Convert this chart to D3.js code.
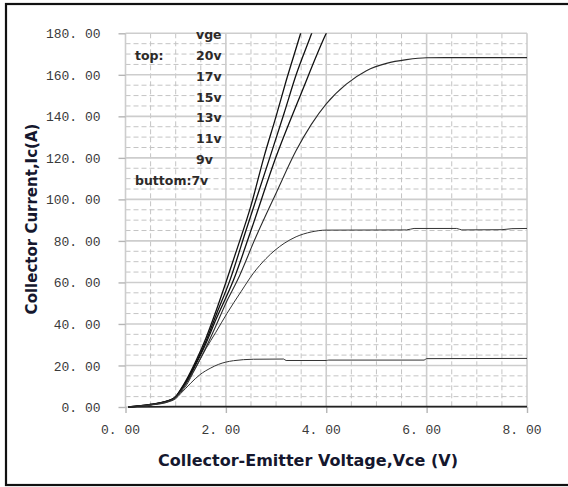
<!DOCTYPE html>
<html><head><meta charset="utf-8">
<script src="https://cdn.jsdelivr.net/npm/d3@7"></script>
<style>
html,body{margin:0;padding:0;background:#fff;}
svg{display:block;}
</style></head>
<body>
<svg id="chart" width="568" height="487"></svg>
<script>
// ---- data (Vce [V], Ic [A]) ----
const xTicks = [0, 2, 4, 6, 8];
const yTicks = [0, 20, 40, 60, 80, 100, 120, 140, 160, 180];
const legendLabels = ["vge", "20v", "17v", "15v", "13v", "11v", "9v"];
const vge20 = [[0.05,0],[0.5,1.3],[0.9,3.5],[1.0,5],[1.1,8.5],[1.2,12.5],[1.4,22],[1.6,33],[1.8,46],[2.0,60],[2.2,74.5],[2.5,97],[2.76,120.5],[3.0,140],[3.2,157],[3.49,180],[3.6,189]];
const vge17 = [[0.05,0],[0.5,1.2],[0.9,3.4],[1.0,4.9],[1.1,8.2],[1.2,12],[1.4,21],[1.6,31.5],[1.8,44],[2.08,61],[2.4,85],[2.88,120.5],[3.16,141.5],[3.4,160],[3.71,180],[3.8,186]];
const vge15 = [[0.05,0],[0.5,1.2],[0.9,3.3],[1.0,4.8],[1.1,8],[1.2,11.5],[1.4,20.5],[1.6,30.5],[1.8,42],[2.15,61],[2.5,85],[3.0,120.5],[3.5,151],[4.0,180],[4.1,185]];
const vge13 = [[0.05,0],[0.5,1.1],[0.9,3.2],[1.0,4.7],[1.1,7.5],[1.2,11],[1.4,19],[1.6,28.5],[1.8,39],[2.0,50],[2.23,61],[2.6,82],[3.0,103],[3.4,123.5],[3.7,136],[4.0,146],[4.4,155.5],[4.8,162],[5.2,165.5],[5.6,167.3],[6.0,168.2],[7.0,168.3],[8.0,168.3]];
const vge11 = [[0.05,0],[0.5,1.0],[0.9,3.0],[1.0,4.5],[1.1,7],[1.2,10],[1.4,19],[1.6,28],[1.8,36],[2.02,45],[2.3,55.5],[2.55,64.5],[2.8,71.5],[3.16,78.8],[3.4,82],[3.7,84.3],[4.0,85.2],[5.6,85.3],[5.75,86],[6.6,86],[6.7,85.3],[7.5,85.4],[7.7,85.9],[8.0,86]];
const vge9 = [[0.05,0],[0.5,0.9],[0.9,2.8],[1.0,4],[1.1,6.5],[1.2,9],[1.3,11.5],[1.48,15.5],[1.7,18.8],[1.85,20.5],[2.15,22.3],[2.55,23],[3.15,23.1],[3.2,22.4],[4.0,22.4],[4.05,22.6],[5.95,22.6],[6.0,23.3],[8.0,23.4]];
const vge7 = [[0.05,0],[1.0,0.2],[8.0,0.2]];

const series = [vge20, vge17, vge15, vge13, vge11, vge9, vge7];

// ---- layout ----
const svg = d3.select("#chart");
const x = d3.scaleLinear().domain([0, 8]).range([125.5, 527]);
const y = d3.scaleLinear().domain([0, 180]).range([407, 33.3]);

// outer frame (right edge falls outside the picture)
svg.append("rect").attr("x", 6).attr("y", 4).attr("width", 600).attr("height", 481)
  .attr("fill", "none").attr("stroke", "#111").attr("stroke-width", 2.2);

// minor dashed grid
const gMinor = svg.append("g").attr("stroke", "#c4c4c4").attr("stroke-width", 1).attr("stroke-dasharray", "5,3");
d3.range(0, 8.01, 0.5).filter(v => v % 2 !== 0).forEach(v => {
  gMinor.append("line").attr("x1", x(v)).attr("x2", x(v)).attr("y1", y(180)).attr("y2", y(0));
});
d3.range(0, 180.1, 5).filter(v => v % 20 !== 0).forEach(v => {
  gMinor.append("line").attr("x1", x(0)).attr("x2", x(8)).attr("y1", y(v)).attr("y2", y(v));
});

// major solid grid
const gMajor = svg.append("g").attr("stroke", "#cdcdcd").attr("stroke-width", 1.6);
xTicks.forEach(v => gMajor.append("line").attr("x1", x(v)).attr("x2", x(v)).attr("y1", y(180)).attr("y2", y(0)));
yTicks.forEach(v => gMajor.append("line").attr("x1", x(0)).attr("x2", x(8)).attr("y1", y(v)).attr("y2", y(v)));

// axes
const fmt = d => d.toFixed(2).replace(".", ". ");
const xAxis = svg.append("g").attr("transform", `translate(0,${y(0)})`)
  .call(d3.axisBottom(x).tickValues(xTicks).tickFormat(fmt).tickSize(6).tickPadding(12));
const yAxis = svg.append("g").attr("transform", `translate(${x(0)},0)`)
  .call(d3.axisLeft(y).tickValues(yTicks).tickFormat(fmt).tickSize(7).tickPadding(18));
[xAxis, yAxis].forEach(g => {
  g.select(".domain").remove();
  g.selectAll(".tick line").attr("stroke", "#b5b5b5").attr("stroke-width", 1.4);
  g.selectAll(".tick text").attr("font-family", "'Liberation Mono', monospace")
    .attr("font-size", 13).attr("fill", "#3a3a3a");
});
xAxis.selectAll(".tick text").attr("dx", -5.5);
yAxis.selectAll(".tick text").attr("dy", "0.35em").attr("x", -25);

// clip
svg.append("clipPath").attr("id", "plotclip").append("rect")
  .attr("x", x(0)).attr("y", y(180)).attr("width", x(8) - x(0)).attr("height", y(0) - y(180) + 1);

// legend text (inside plot)
const lg = svg.append("g").attr("font-family", "'DejaVu Sans', sans-serif").attr("font-weight", "bold")
  .attr("font-size", 12.5).attr("fill", "#2d2a28");
const rowY = [39, 60, 81, 101.5, 122, 143, 164];
legendLabels.forEach((t, i) => lg.append("text").attr("x", 196).attr("y", rowY[i]).text(t));
lg.append("text").attr("x", 135).attr("y", 60).text("top:");
lg.append("text").attr("x", 135).attr("y", 185).text("buttom:7v");

// curves
const line = d3.line().x(d => x(d[0])).y(d => y(d[1])).curve(d3.curveMonotoneX);
const widths = [1.3, 1.3, 1.3, 1.1, 1.0, 1.0, 1.6];
const colors = ["#111", "#111", "#111", "#2a2a2a", "#333", "#333", "#222"];
const gc = svg.append("g").attr("clip-path", "url(#plotclip)");
series.forEach((s, i) => {
  gc.append("path").datum(s).attr("d", line).attr("fill", "none")
    .attr("stroke", colors[i]).attr("stroke-width", widths[i]);
});

// axis titles
svg.append("text").attr("x", 308).attr("y", 466).attr("text-anchor", "middle")
  .attr("font-family", "'DejaVu Sans', sans-serif").attr("font-weight", "bold").attr("font-size", 16)
  .attr("fill", "#15172e").text("Collector-Emitter Voltage,Vce (V)");
svg.append("text").attr("transform", "translate(37,219) rotate(-90)").attr("text-anchor", "middle")
  .attr("font-family", "'DejaVu Sans', sans-serif").attr("font-weight", "bold").attr("font-size", 15)
  .attr("fill", "#15172e").text("Collector Current,Ic(A)");
</script>
</body></html>
